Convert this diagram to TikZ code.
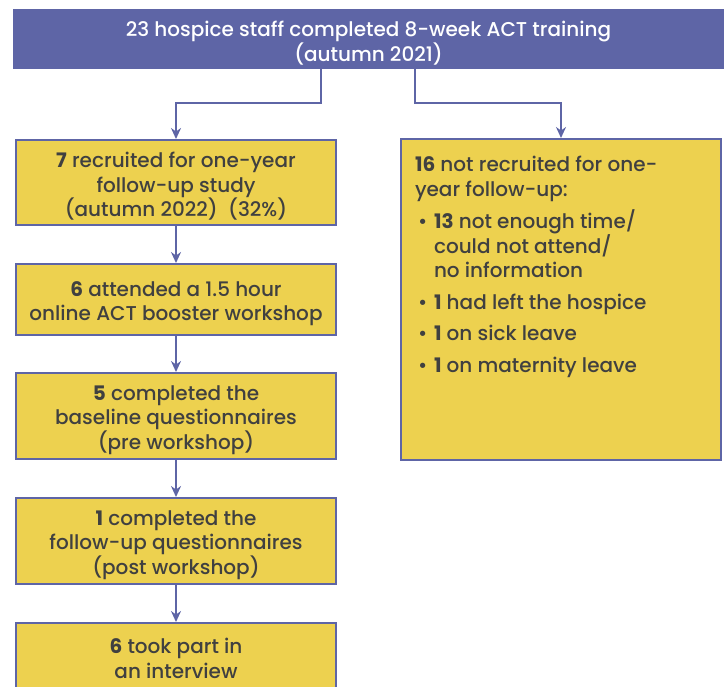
\documentclass[tikz,border=0pt]{standalone}
\usepackage{fontspec}
\setmainfont{Poppins}[UprightFont={* Medium},BoldFont={* Bold}]
\usetikzlibrary{arrows.meta,positioning}

\definecolor{actblue}{RGB}{94,101,166}
\definecolor{actyellow}{RGB}{237,209,79}
\definecolor{acttext}{RGB}{64,64,64}

\newcommand{\reason}[2]{\par\hangindent=19pt\hangafter=1\noindent
  \hspace*{3pt}\makebox[16pt][l]{\textbullet}\textbf{#1} #2}
\newcommand{\firstup}[1][23pt]{\rule{0pt}{#1}}

\tikzset{
  stepbox/.style={draw=actblue,fill=actyellow,line width=2.4pt,text=acttext,
    minimum width=319.6pt,inner ysep=1pt,align=center,
    font=\fontsize{20}{24.5}\selectfont},
  topbox/.style={draw=actblue,fill=actblue,text=white,minimum width=709pt,
    minimum height=58pt,inner ysep=1pt,align=center,
    font=\fontsize{20}{22}\selectfont}
}

\begin{document}
\begin{tikzpicture}[->,>={Stealth[length=11pt,width=10pt]},line width=2.4pt,
  actblue,x=1pt,y=-1pt,node distance=37pt]
\useasboundingbox (0,0) rectangle (728,686);
\clip (0,0) rectangle (728,686);

\node[topbox] (train) at (368.5,39)
  {\firstup[23pt]23 hospice staff completed 8-week ACT training\\(autumn 2021)};

\node[stepbox,minimum height=84.6pt] (s_1) at (176,182.5)
  {\firstup\textbf{7} recruited for one-year\\follow-up study\\(autumn 2022) \ (32\%)};
\node[stepbox,minimum height=70.6pt] (s_2) [below=of s_1]
  {\firstup\textbf{6} attended a 1.5 hour\\online ACT booster workshop};
\node[stepbox,minimum height=85.6pt] (s_3) [below=36pt of s_2]
  {\firstup\textbf{5} completed the\\baseline questionnaires\\(pre workshop)};
\node[stepbox,minimum height=85.6pt] (s_4) [below=of s_3]
  {\firstup\textbf{1} completed the\\follow-up questionnaires\\(post workshop)};
\node[stepbox,minimum height=70.6pt] (s_5) [below=of s_4]
  {\textbf{6} took part in\\an interview};

\node[stepbox,minimum height=320.6pt,align=left] (excl) at (561,299.5)
  {\parbox[c][300pt][t]{292pt}{%
  \setlength{\parskip}{7pt}%
  \vspace*{0pt}\textbf{16} not recruited for one-\\year follow-up:\par\vspace{1pt}
  \reason{13}{not enough time/\\could not attend/\\no information}
  \reason{1}{had left the hospice}
  \reason{1}{on sick leave}
  \reason{1}{on maternity leave}}};

\draw ([xshift=-47.5pt]train.south) -- ++(0,34) -| (s_1);
\draw ([xshift=46.5pt]train.south) -- ++(0,34) -| (excl);

\path (s_1) edge (s_2)
  (s_2) edge (s_3)
  (s_3) edge (s_4)
  (s_4) edge (s_5);

\end{tikzpicture}
\end{document}
